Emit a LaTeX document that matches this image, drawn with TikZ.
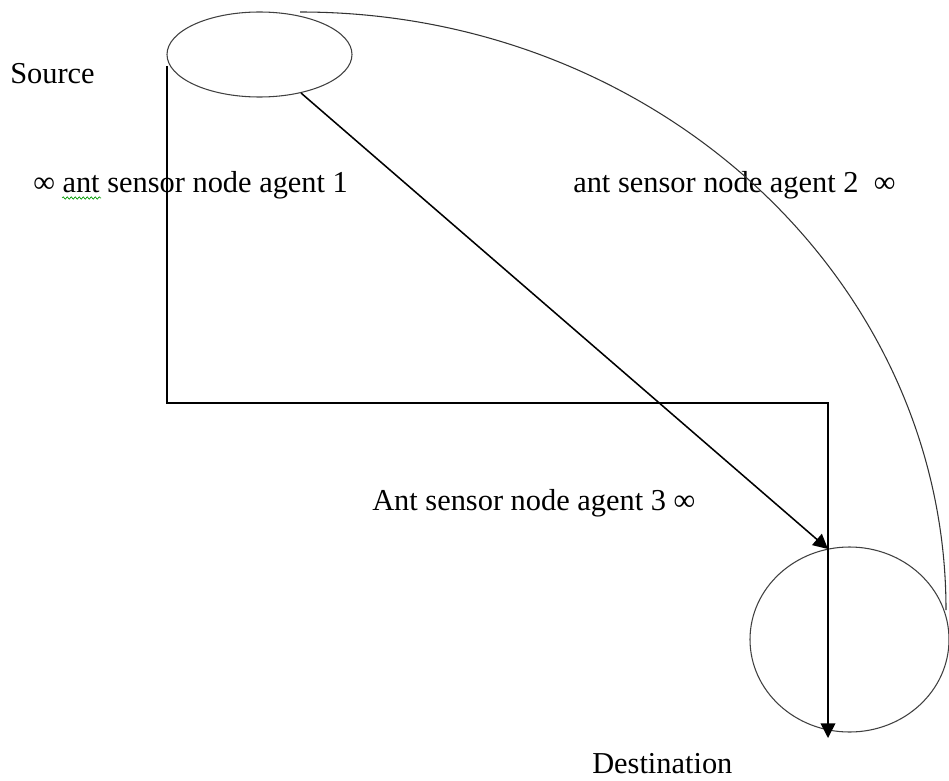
\documentclass[tikz,border=0pt]{standalone}
\usepackage{fontspec}
\setmainfont{Liberation Serif}
\usetikzlibrary{arrows.meta,shapes.geometric,decorations.pathmorphing}
\begin{document}
\begin{tikzpicture}[x=0.75pt,y=-0.75pt,
  every node/.style={inner sep=0pt},
  lbl/.style={anchor=base west,font=\fontsize{22.8}{27}\selectfont},
  place/.style={draw,ellipse,line width=0.8pt,black!75},
  link/.style={line width=1.15pt},
  tip/.style={-{Triangle[length=11pt,width=11pt]}}]
\useasboundingbox (0,0) rectangle (949,781);

% source and destination
\node[place,minimum width=138.75pt,minimum height=63.75pt] (source) at (259.5,54.5) {};
\node[place,minimum width=149.25pt,minimum height=138.75pt] (dest) at (849.5,639.5) {};

% labels
\node[lbl] (tsrc) at (10,84) {Source};
\node[lbl] (t1) at (33,192) {∞ ant sensor node agent 1};
\node[lbl] (t2) at (573,192) {ant sensor node agent 2 \ ∞};
\node[lbl] (t3) at (372,510) {Ant sensor node agent 3 ∞};
\node[lbl] (tdst) at (592,773) {Destination};

% spell-check squiggle under "ant"
\draw[green!60!black,line width=0.5pt,decorate,decoration={snake,amplitude=0.9pt,segment length=3pt}]
  (62,198) -- (101,198);

% agent 1: down, across, and down through the destination
\coordinate (p1) at (167,66);
\coordinate (p2) at (167,403);
\coordinate (p3) at (828,403);
\coordinate (p4) at (828,738);
\draw[link,tip] (p1) -- (p2) -- (p3) -- (p4);

% agent 3: straight from the source to the destination
\coordinate (d1) at (301,93);
\coordinate (d2) at (828,549);
\draw[link,tip] (d1) -- (d2);

% agent 2: wide arc over the top
\coordinate (a1) at (300,12);
\coordinate (a2) at (946,610);
\draw[line width=0.8pt,black!80] (a1) .. controls (656.8,12) and (946,279.7) .. (a2);
\end{tikzpicture}
\end{document}
